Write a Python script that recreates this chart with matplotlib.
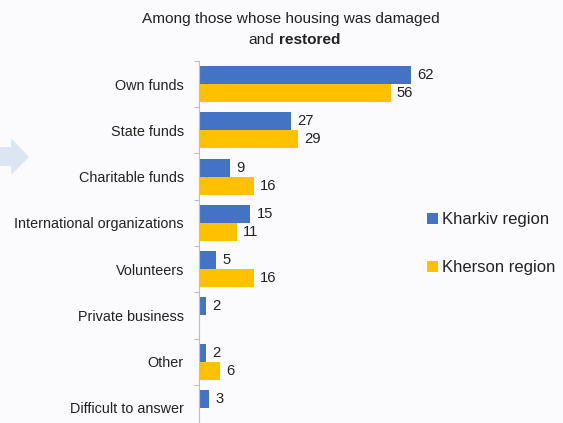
import matplotlib
matplotlib.use("Agg")
import matplotlib.pyplot as plt
from matplotlib.patches import Polygon
import numpy as np

plt.rcParams['font.family'] = ['Liberation Sans', 'DejaVu Sans']

categories = ["Own funds", "State funds", "Charitable funds",
              "International organizations", "Volunteers",
              "Private business", "Other", "Difficult to answer"]
kharkiv = [62, 27, 9, 15, 5, 2, 2, 3]
kherson = [56, 29, 16, 11, 16, None, 6, None]
series_names = ["Kharkiv region", "Kherson region"]

BLUE = "#4472C4"
GOLD = "#FFC000"
BG = "#FBFBFE"
TXT = "#222222"
W, H = 563, 423

fig = plt.figure(figsize=(W / 100, H / 100), dpi=100, facecolor=BG)

# axes placed in pixel terms; the last group runs off the bottom edge
left, right_px, top_px, bottom_px = 199, 541, 61, 431
ax = fig.add_axes([left / W, 1 - bottom_px / H,
                   (right_px - left) / W, (bottom_px - top_px) / H])
ax.set_facecolor(BG)

y = np.arange(len(categories))
bh = 0.39
kh_vals = [v if v is not None else 0 for v in kharkiv]
ks_vals = [v if v is not None else 0 for v in kherson]
b1 = ax.barh(y - bh / 2, kh_vals, height=bh, color=BLUE, label=series_names[0])
b2 = ax.barh(y + bh / 2, ks_vals, height=bh, color=GOLD, label=series_names[1])

for yi, v in zip(y, kharkiv):
    if v is not None:
        ax.annotate(str(v), (v, yi - bh / 2), xytext=(4.5, 0),
                    textcoords="offset points", va="center", ha="left",
                    fontsize=10.6, color=TXT)
for yi, v in zip(y, kherson):
    if v is not None:
        ax.annotate(str(v), (v, yi + bh / 2), xytext=(4.5, 0),
                    textcoords="offset points", va="center", ha="left",
                    fontsize=10.6, color=TXT)

ax.set_xlim(0, 100)
ax.set_ylim(len(categories) - 0.5, -0.5)
ax.set_yticks(y)
ax.set_yticklabels(categories, fontsize=10.4, color=TXT)
ax.set_yticks(np.arange(len(categories) + 1) - 0.5, minor=True)
ax.tick_params(axis="y", which="major", length=0, pad=10.8)
ax.tick_params(axis="y", which="minor", length=3.5, color="#BFBFBF", width=0.8)
ax.set_xticks([])
for s in ["top", "right", "bottom"]:
    ax.spines[s].set_visible(False)
ax.spines["left"].set_color("#BFBFBF")
ax.spines["left"].set_linewidth(0.8)

leg = fig.legend(handles=[b1, b2], labels=series_names,
                 loc="upper left", bbox_to_anchor=(427 / W, 1 - 212 / H),
                 frameon=False, fontsize=12, handlelength=0.63,
                 handleheight=0.63, handletextpad=0.27, labelspacing=1.99,
                 borderaxespad=0, borderpad=0)
for t in leg.get_texts():
    t.set_color(TXT)

# title, second line with a bold word
fig.text(291 / W, 1 - 18.5 / H, "Among those whose housing was damaged",
         ha="center", va="center", fontsize=11.1, color=TXT)
fig.text(274.5 / W, 1 - 40.5 / H, "and", ha="right", va="center",
         fontsize=11.1, color=TXT)
fig.text(278.5 / W, 1 - 40.5 / H, "restored", ha="left", va="center",
         fontsize=11.1, fontweight="bold", color=TXT)

# decorative arrow at the left edge
pts = [(0, 147), (11, 147), (11, 138), (29, 157), (11, 175), (11, 166), (0, 166)]
arrow = Polygon([(px / W, 1 - py / H) for px, py in pts], closed=True,
                transform=fig.transFigure, facecolor="#DCE6F2",
                edgecolor="none")
fig.add_artist(arrow)

fig.savefig("out.png", dpi=100, facecolor=BG)
